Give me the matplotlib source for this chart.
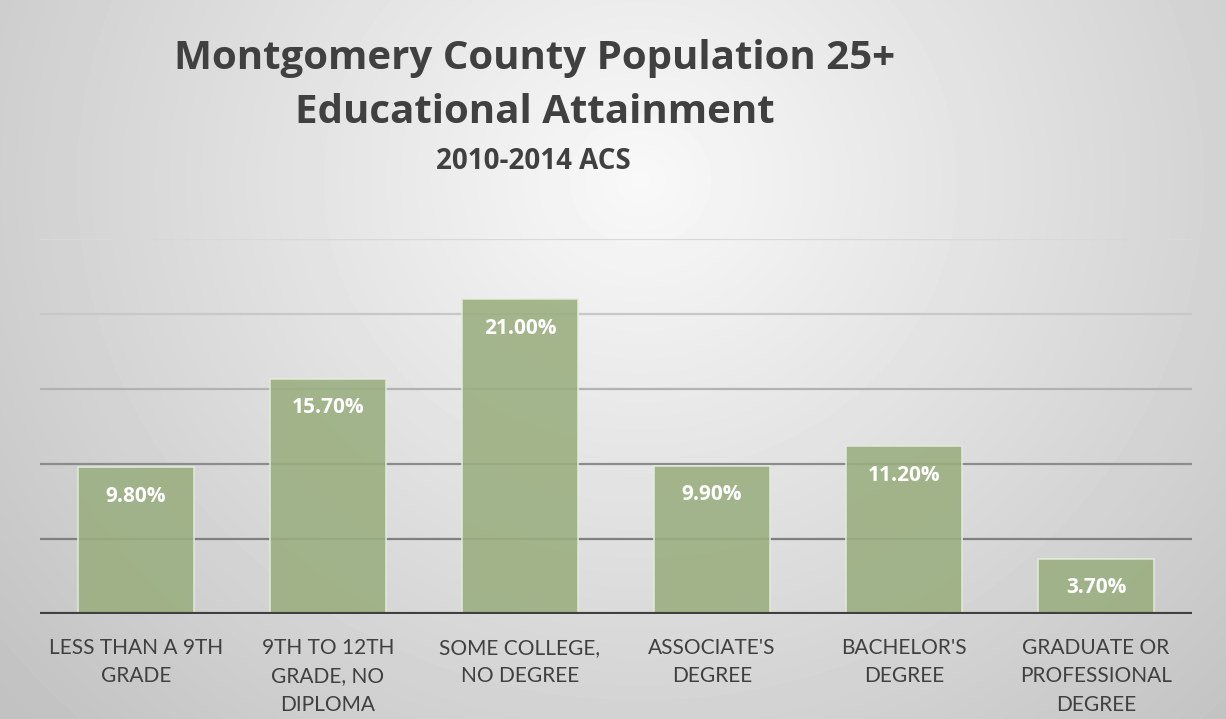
import matplotlib.pyplot as plt
import numpy as np

# chart data
categories = ["LESS THAN A 9TH\nGRADE", "9TH TO 12TH\nGRADE, NO\nDIPLOMA",
              "SOME COLLEGE,\nNO DEGREE", "ASSOCIATE'S\nDEGREE",
              "BACHELOR'S\nDEGREE", "GRADUATE OR\nPROFESSIONAL\nDEGREE"]
values = [9.8, 15.7, 21.0, 9.9, 11.2, 3.7]
grid_levels = [5, 10, 15, 20, 25]
grid_colors = ["#808080", "#8c8c8c", "#b2b2b2", "#c8c8c8", "#d8d8d8"]

plt.rcParams["font.family"] = ["Lato", "DejaVu Sans"]
bold_font = ["Open Sans", "DejaVu Sans"]

W, H = 1226, 719
fig = plt.figure(figsize=(W / 100, H / 100), dpi=100)

# radial grey background
bg = fig.add_axes([0, 0, 1, 1], zorder=-10)
yy, xx = np.mgrid[0:H, 0:W]
r = np.sqrt(((xx - 640) / 650.0) ** 2 + ((yy - 180) / 600.0) ** 2)
shade = np.clip(0.975 - 0.165 * r, 0.76, 1.0)
bg.imshow(shade, cmap="gray", vmin=0, vmax=1, aspect="auto", extent=[0, W, H, 0])
bg.axis("off")

ax = fig.add_axes([40 / W, (H - 614) / H, 1152 / W, 375 / H])
ax.patch.set_alpha(0)
x = np.arange(len(values))
bars = ax.bar(x, values, width=0.6, color="#9aae7f", alpha=0.88,
              edgecolor="#e4ecdc", linewidth=1.2, zorder=3)

for lvl, c in zip(grid_levels, grid_colors):
    ax.axhline(lvl, color=c, linewidth=1.6, zorder=1)
ax.axhline(0, color="#404040", linewidth=3, zorder=4)

for xi, v in zip(x, values):
    ax.annotate(f"{v:.2f}%", (xi, v), xytext=(0, -21), textcoords="offset points",
                ha="center", va="center", color="white", fontsize=15,
                fontweight="bold", family=bold_font, zorder=5)

ax.set_xlim(-0.5, len(values) - 0.5)
ax.set_ylim(0, 25)
ax.set_xticks(x)
ax.set_xticklabels(categories, fontsize=15, color="#404040", linespacing=1.55)
ax.tick_params(axis="x", length=0, pad=17)
ax.set_yticks([])
for s in ax.spines.values():
    s.set_visible(False)

fig.text(0.436, 0.919, "Montgomery County Population 25+", ha="center", va="center",
         fontsize=29, fontweight="bold", family=bold_font, color="#404040")
fig.text(0.436, 0.843, "Educational Attainment", ha="center", va="center",
         fontsize=29, fontweight="bold", family=bold_font, color="#404040")
fig.text(0.435, 0.776, "2010-2014 ACS", ha="center", va="center",
         fontsize=20, fontweight="bold", family=bold_font, color="#404040")

fig.savefig("out.png", dpi=100)
